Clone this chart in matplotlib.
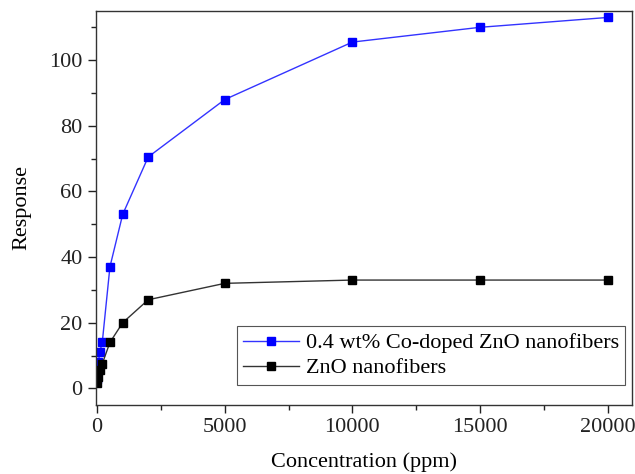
import numpy as np
import matplotlib.pyplot as plt
from matplotlib.ticker import MultipleLocator

plt.rcParams['font.family'] = ['Liberation Serif', 'DejaVu Serif']

conc = [10, 50, 100, 200, 500, 1000, 2000, 5000, 10000, 15000, 20000]
co_doped = [3, 8, 11, 14, 37, 53, 70.5, 88, 105.5, 110, 113]
pure_zno = [1.5, 3.5, 5.5, 7.5, 14, 20, 27, 32, 33, 33, 33]

fig = plt.figure(figsize=(6.35, 4.74), dpi=100)
ax = fig.add_axes([0.151, 0.146, 0.844, 0.831])

ax.plot(conc, co_doped, color='#3333ff', lw=1.0, marker='s', ms=6,
        mfc='blue', mec='blue', label='0.4 wt% Co-doped ZnO nanofibers')
ax.plot(conc, pure_zno, color='#333333', lw=1.0, marker='s', ms=6,
        mfc='black', mec='black', label='ZnO nanofibers')

ax.set_xlim(-50, 20950)
ax.set_ylim(-5, 115)
ax.xaxis.set_major_locator(MultipleLocator(5000))
ax.xaxis.set_minor_locator(MultipleLocator(2500))
ax.yaxis.set_major_locator(MultipleLocator(20))
ax.yaxis.set_minor_locator(MultipleLocator(10))
ax.tick_params(which='major', direction='out', length=6, width=1, labelsize=16, colors='#222222')
ax.tick_params(which='minor', direction='out', length=3.5, width=1, colors='#222222')
for s in ax.spines.values():
    s.set_color('#333333')
    s.set_linewidth(1.0)

ax.set_xlabel('Concentration (ppm)', fontsize=16, labelpad=11)
ax.set_ylabel('Response', fontsize=16, labelpad=13)

leg = ax.legend(loc='lower right', fontsize=16, fancybox=False, edgecolor='#555555',
                framealpha=1, handlelength=2.5, borderpad=0.3, labelspacing=0.2,
                handletextpad=0.3, borderaxespad=0, bbox_to_anchor=(0.988, 0.05))
leg.get_frame().set_linewidth(0.8)

plt.savefig('out.png', dpi=100)
